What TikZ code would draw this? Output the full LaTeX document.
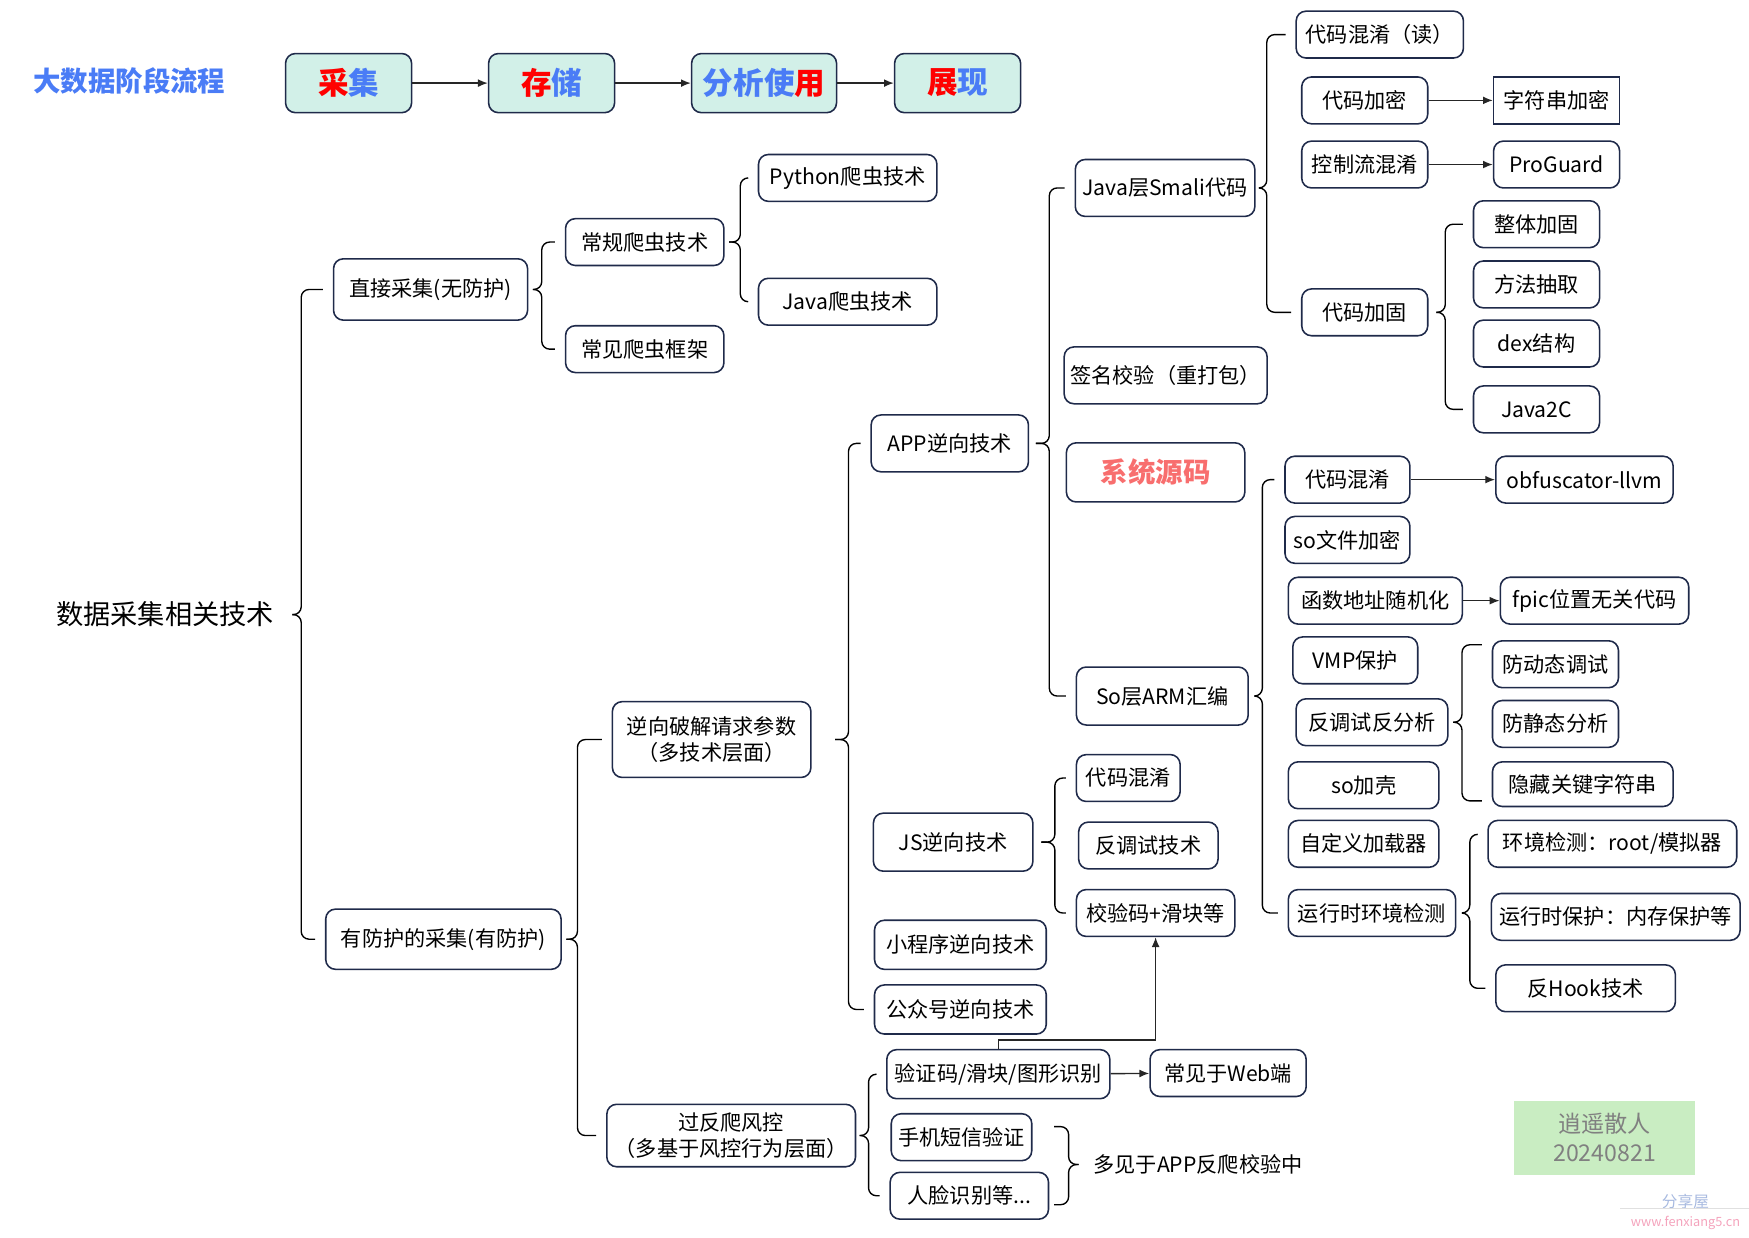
\documentclass[tikz,border=0pt]{standalone}
\usepackage{fontspec}
\setmainfont{Noto Sans CJK SC}
\usepackage{tikz}
\usetikzlibrary{arrows.meta}

\definecolor{navy}{HTML}{1F2A4A}
\definecolor{mint}{HTML}{D2F0E8}
\definecolor{sblue}{HTML}{4A7CF6}
\definecolor{salmon}{HTML}{F86E6E}
\definecolor{wmgreen}{HTML}{C9EDC2}
\definecolor{wmblue}{HTML}{A8BAE0}
\definecolor{wmpink}{HTML}{F4A3BC}

\begin{document}
\begin{tikzpicture}[
    x=0.02cm, y=-0.02cm,
    leaf/.style={
        draw=navy,
        fill=white,
        rounded corners=5pt,
        line width=0.8pt,
        minimum height=0.84cm,
        inner sep=2pt,
        align=center,
        font=\fontsize{10.8}{13.6}\selectfont,
    },
    stage/.style={
        leaf,
        fill=mint,
        minimum width=2.26cm,
        minimum height=1.06cm,
        font=\fontsize{15.6}{18}\selectfont\bfseries,
    },
    branch/.style={
        draw=black,
        line width=0.7pt,
        rounded corners=4pt,
        shorten >=5pt,
    },
    leafarrow/.style={
        -{Latex[length=5pt,width=4pt]},
        line width=0.7pt,
        color=black!85,
    },
]
\useasboundingbox (0,0) rectangle (1568,1109);

% stages
\node[font=\fontsize{14}{16}\selectfont\bfseries, text=sblue] (title) at (116,73) {大数据阶段流程};
\node[stage] (cj) at (312.5,74.5) {\textcolor{red}{采}\textcolor{sblue}{集}};
\node[stage] (cc) at (494.5,74.5) {\textcolor{red}{存}\textcolor{sblue}{储}};
\node[stage, minimum width=2.6cm] (fx) at (685,74.5) {\textcolor{sblue}{分析使}\textcolor{red}{用}};
\node[stage] (zx) at (858.5,74.5) {\textcolor{red}{展}\textcolor{sblue}{现}};

\draw[leafarrow] (cj) -- (cc);
\draw[leafarrow] (cc) -- (fx);
\draw[leafarrow] (fx) -- (zx);

% tree
\node[font=\fontsize{13.9}{16}\selectfont, inner sep=0pt] (root) at (148,551) {数据采集相关技术};

\node[leaf, minimum width=3.48cm, minimum height=1.1cm] (zj) at (386,259.5) {直接采集(无防护)};
\node[leaf, minimum width=4.22cm, minimum height=1.08cm] (yf) at (397.5,842) {有防护的采集(有防护)};

\node[leaf, minimum width=2.84cm] (cg) at (578,217) {常规爬虫技术};
\node[leaf, minimum width=2.84cm] (cjk) at (578,313) {常见爬虫框架};
\node[leaf, minimum width=3.2cm] (py) at (760,159.5) {Python爬虫技术};
\node[leaf, minimum width=3.2cm] (jv) at (760,270.5) {Java爬虫技术};

\node[leaf, minimum width=3.56cm, minimum height=1.36cm] (nx) at (638,663) {逆向破解请求参数\\（多技术层面）};
\node[leaf, minimum width=4.46cm, minimum height=1.12cm] (gf) at (655.5,1018) {过反爬风控\\（多基于风控行为层面）};

\node[leaf, minimum width=2.82cm, minimum height=1.02cm] (app) at (851.5,397.5) {APP逆向技术};
\node[leaf, minimum width=2.86cm, minimum height=1.04cm] (js) at (854.5,755) {JS逆向技术};
\node[leaf, minimum width=3.08cm, minimum height=0.88cm] (xcx) at (861,847) {小程序逆向技术};
\node[leaf, minimum width=3.08cm, minimum height=0.88cm] (gzh) at (861,905) {公众号逆向技术};

\node[leaf, minimum width=3.22cm, minimum height=1.02cm] (smali) at (1044.5,168.5) {Java层Smali代码};
\node[leaf, minimum width=3.64cm, minimum height=1.02cm] (qm) at (1045,336.5) {签名校验（重打包）};
\node[leaf, minimum width=3.2cm, minimum height=1.06cm, font=\fontsize{14}{16}\selectfont\bfseries, text=salmon] (xt) at (1036,423.5) {系统源码};
\node[leaf, minimum width=3.08cm, minimum height=1.04cm] (arm) at (1042,624) {So层ARM汇编};

\node[leaf, minimum width=3cm] (hx1) at (1237,31) {代码混淆（读）};
\node[leaf, minimum width=2.26cm] (jm) at (1223.5,90) {代码加密};
\node[leaf, minimum width=2.26cm, rounded corners=0pt] (zfc) at (1395.5,90) {字符串加密};
\node[leaf, minimum width=2.26cm] (kz) at (1223.5,147.5) {控制流混淆};
\node[leaf, minimum width=2.26cm] (pg) at (1395.5,147.5) {ProGuard};
\node[leaf, minimum width=2.26cm] (jg) at (1223.5,280) {代码加固};
\node[leaf, minimum width=2.26cm] (zt) at (1377.5,201) {整体加固};
\node[leaf, minimum width=2.26cm] (ff) at (1377.5,255) {方法抽取};
\node[leaf, minimum width=2.26cm] (dex) at (1377.5,308) {dex结构};
\node[leaf, minimum width=2.26cm] (j2c) at (1377.5,367) {Java2C};

\node[leaf, minimum width=2.24cm] (hx2) at (1208,430) {代码混淆};
\node[leaf, minimum width=3.18cm] (ollvm) at (1420.5,430) {obfuscator-llvm};
\node[leaf, minimum width=2.24cm] (sowj) at (1208,484) {so文件加密};
\node[leaf, minimum width=3.12cm] (hs) at (1233,538.5) {函数地址随机化};
\node[leaf, minimum width=3.38cm] (fpic) at (1429.5,538.5) {fpic位置无关代码};
\node[leaf, minimum width=2.24cm] (vmp) at (1215,592) {VMP保护};
\node[leaf, minimum width=2.72cm] (ftsh) at (1230,647.5) {反调试反分析};
\node[leaf, minimum width=2.7cm] (soke) at (1222.5,704) {so加壳};
\node[leaf, minimum width=2.7cm] (zdy) at (1222.5,756.5) {自定义加载器};
\node[leaf, minimum width=3cm] (yxs) at (1230,818.5) {运行时环境检测};

\node[leaf, minimum width=2.26cm] (fdt) at (1394.5,595.5) {防动态调试};
\node[leaf, minimum width=2.26cm] (fjt) at (1394.5,649) {防静态分析};
\node[leaf, minimum width=3.24cm, minimum height=0.8cm] (yc) at (1419,703) {隐藏关键字符串};
\node[leaf, minimum width=4.46cm] (hj) at (1445.5,756.5) {环境检测：root/模拟器};
\node[leaf, minimum width=4.46cm] (bh) at (1448.5,822) {运行时保护：内存保护等};
\node[leaf, minimum width=3.22cm] (hook) at (1421.5,886) {反Hook技术};

\node[leaf, minimum width=1.86cm] (jshx) at (1011.5,697.5) {代码混淆};
\node[leaf, minimum width=2.5cm] (jsft) at (1029.5,758) {反调试技术};
\node[leaf, minimum width=2.84cm] (jym) at (1036,818.5) {校验码+滑块等};

\node[leaf, minimum width=4cm, minimum height=0.88cm] (yzm) at (895,963) {验证码/滑块/图形识别};
\node[leaf, minimum width=2.8cm] (web) at (1101,962) {常见于Web端};
\node[leaf, minimum width=2.52cm] (dx) at (862,1019.5) {手机短信验证};
\node[leaf, minimum width=2.84cm] (rl) at (869,1072) {人脸识别等...};
\node[font=\fontsize{10.8}{13}\selectfont, inner sep=0pt, anchor=west] (dj) at (980,1044) {多见于APP反爬校验中};
\coordinate (djtop) at (945,1010);
\coordinate (djbot) at (945,1080);

% branches
\draw[branch] (root.east) ++(16,0) -- ++(8,0) |- (zj.west);
\draw[branch] (root.east) ++(16,0) -- ++(8,0) |- (yf.west);
\draw[branch] (zj.east) ++(4,0) -- ++(8,0) |- (cg.west);
\draw[branch] (zj.east) ++(4,0) -- ++(8,0) |- (cjk.west);
\draw[branch] (cg.east) ++(4,0) -- ++(10,0) |- (py.west);
\draw[branch] (cg.east) ++(4,0) -- ++(10,0) |- (jv.west);
\draw[branch] (yf.east) ++(4,0) -- ++(10,0) |- (nx.west);
\draw[branch] (yf.east) ++(4,0) -- ++(10,0) |- (gf.west);
\draw[branch] (nx.east) ++(21,0) -- ++(12,0) |- (app.west);
\draw[branch] (nx.east) ++(21,0) -- ++(12,0) |- (gzh.west);
\draw[branch] (app.east) ++(6,0) -- ++(12,0) |- (smali.west);
\draw[branch] (app.east) ++(6,0) -- ++(12,0) |- (arm.west);
\draw[branch] (smali.east) ++(3,0) -- ++(7,0) |- (hx1.west);
\draw[branch] (smali.east) ++(3,0) -- ++(7,0) |- (jg.west);
\draw[branch] (jg.east) ++(7,0) -- ++(8,0) |- (zt.west);
\draw[branch] (jg.east) ++(7,0) -- ++(8,0) |- (j2c.west);
\draw[branch] (arm.east) ++(5,0) -- ++(7,0) |- (hx2.west);
\draw[branch] (arm.east) ++(5,0) -- ++(7,0) |- (yxs.west);
\draw[branch] (ftsh.east) ++(4,0) -- ++(8,0) |- ([yshift=0.35cm]fdt.west);
\draw[branch] (ftsh.east) ++(4,0) -- ++(8,0) |- ([yshift=-0.3cm]yc.west);
\draw[branch] (yxs.east) ++(5,0) -- ++(7,0) |- ([yshift=0.17cm]hj.west);
\draw[branch] (yxs.east) ++(5,0) -- ++(7,0) |- (hook.west);
\draw[branch] (js.east) ++(7,0) -- ++(12,0) |- (jshx.west);
\draw[branch] (js.east) ++(7,0) -- ++(12,0) |- (jym.west);
\draw[branch] (gf.east) ++(3,0) -- ++(8,0) |- (yzm.west);
\draw[branch] (gf.east) ++(3,0) -- ++(8,0) |- (rl.west);
\draw[branch, shorten >=0pt] (dj.west) ++(-13,0) -- ++(-9,0) |- (djtop);
\draw[branch, shorten >=0pt] (dj.west) ++(-13,0) -- ++(-9,0) |- (djbot);

% arrows
\draw[leafarrow] (jm) -- (zfc);
\draw[leafarrow] (kz) -- (pg);
\draw[leafarrow] (hx2) -- (ollvm);
\draw[leafarrow] (hs) -- (fpic);
\draw[leafarrow] (yzm) -- (web);
\draw[leafarrow] (yzm.north) -- ++(0,-8) -| (jym.south);

% watermark
\node[fill=wmgreen, minimum width=3.26cm, minimum height=1.32cm, text=black!50, align=center, font=\fontsize{11.8}{14.7}\selectfont] (wm) at (1438.5,1020) {逍遥散人\\20240821};
\node[text=wmblue, font=\fontsize{8}{9}\selectfont] (fxw) at (1511,1077) {分享屋};
\node[text=wmpink, font=\fontsize{6.5}{8}\selectfont] (url) at (1511,1096) {www.fenxiang5.cn};
\draw[black!12] ([xshift=-2pt]url.north west) -- ([xshift=2pt]url.north east);
\end{tikzpicture}
\end{document}
